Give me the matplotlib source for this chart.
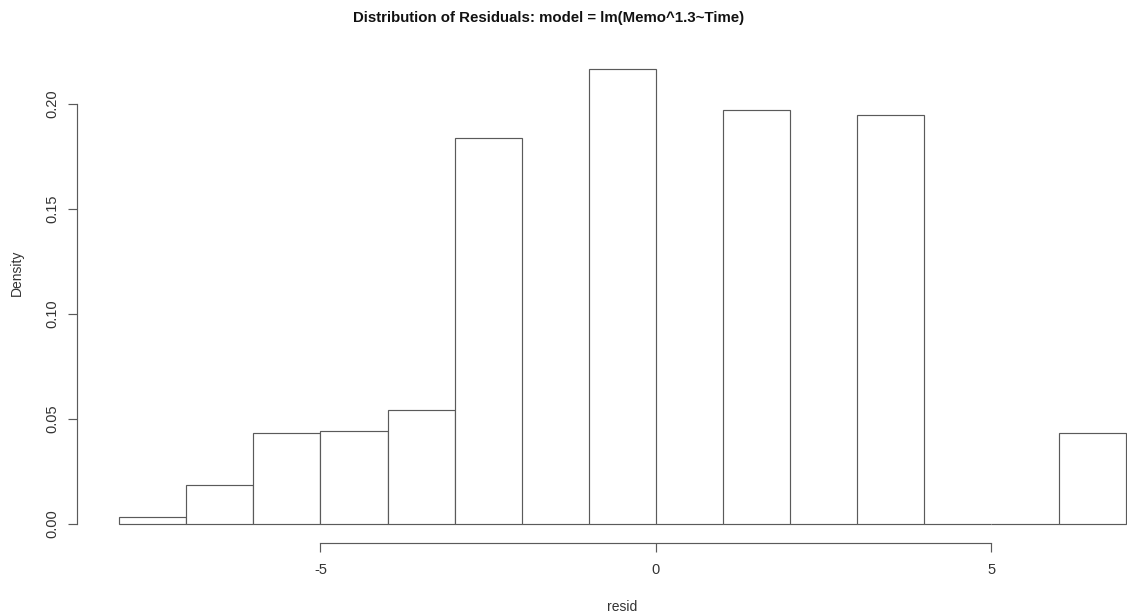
import matplotlib
matplotlib.use("Agg")
import matplotlib.pyplot as plt
from matplotlib.patches import Rectangle

plt.rcParams['font.family'] = ['Liberation Sans', 'DejaVu Sans']

# histogram of residuals, bin width 1 from -8 to 7
bin_edges = [-8, -7, -6, -5, -4, -3, -2, -1, 0, 1, 2, 3, 4, 5, 6, 7]
density = [0.0033, 0.0186, 0.0433, 0.0443, 0.0543, 0.1838, 0.0, 0.2167,
           0.0, 0.197, 0.0, 0.195, 0.0, 0.0, 0.0433]
xticks = [-5, 0, 5]
yticks = [0.00, 0.05, 0.10, 0.15, 0.20]
ytick_labels = ["0.00", "0.05", "0.10", "0.15", "0.20"]

W, H = 1127, 615
fig = plt.figure(figsize=(W / 100, H / 100), dpi=100)
ax = fig.add_axes([0, 0, 1, 1])

# pixel mapping
px_per_x = 67.1
x0_px = 656
px_per_y = 2100
y0_px = 524
ax.set_xlim(-x0_px / px_per_x, (W - x0_px) / px_per_x)
ax.set_ylim(-(H - y0_px) / px_per_y, y0_px / px_per_y)

lefts = bin_edges[:-1]
widths = [b - a for a, b in zip(bin_edges[:-1], bin_edges[1:])]
ax.bar(lefts, density, width=widths, align='edge', facecolor='white',
       edgecolor='#5a5a5a', linewidth=0.85, clip_on=False)

for s in ['top', 'right']:
    ax.spines[s].set_visible(False)
ax.spines['left'].set_position(('data', (77 - x0_px) / px_per_x))
ax.spines['left'].set_bounds(0, 0.2)
ax.spines['bottom'].set_position(('data', (y0_px - 543) / px_per_y))
ax.spines['bottom'].set_bounds(-5, 5)
for s in ['left', 'bottom']:
    ax.spines[s].set_color('#5a5a5a')
    ax.spines[s].set_linewidth(0.85)

ax.set_xticks(xticks)
ax.set_xticklabels([str(t) for t in xticks])
ax.set_yticks(yticks)
ax.set_yticklabels(ytick_labels, rotation=90, va='center')
ax.tick_params(axis='both', direction='out', length=6.5, width=0.85,
               color='#5a5a5a', labelcolor='#333333', labelsize=10.5)
ax.tick_params(axis='x', pad=8)
ax.tick_params(axis='y', pad=6)

fig.text(549 / W, 1 - 18 / H, "Distribution of Residuals: model = lm(Memo^1.3~Time)",
         ha='center', va='center', fontsize=10.8, fontweight='bold', color='#111111')
fig.text(17 / W, 1 - 273 / H, "Density", rotation=90, ha='center', va='center',
         fontsize=10, color='#333333')
fig.text(622 / W, 1 - 607 / H, "resid", ha='center', va='center',
         fontsize=10, color='#333333')

# faint grey strip at the bottom edge of the screenshot
fig.patches.append(Rectangle((0, 0), 1, 17 / H, transform=fig.transFigure,
                             facecolor='#f3f3f3', edgecolor='none', zorder=-1))

fig.savefig("out.png", dpi=100)
